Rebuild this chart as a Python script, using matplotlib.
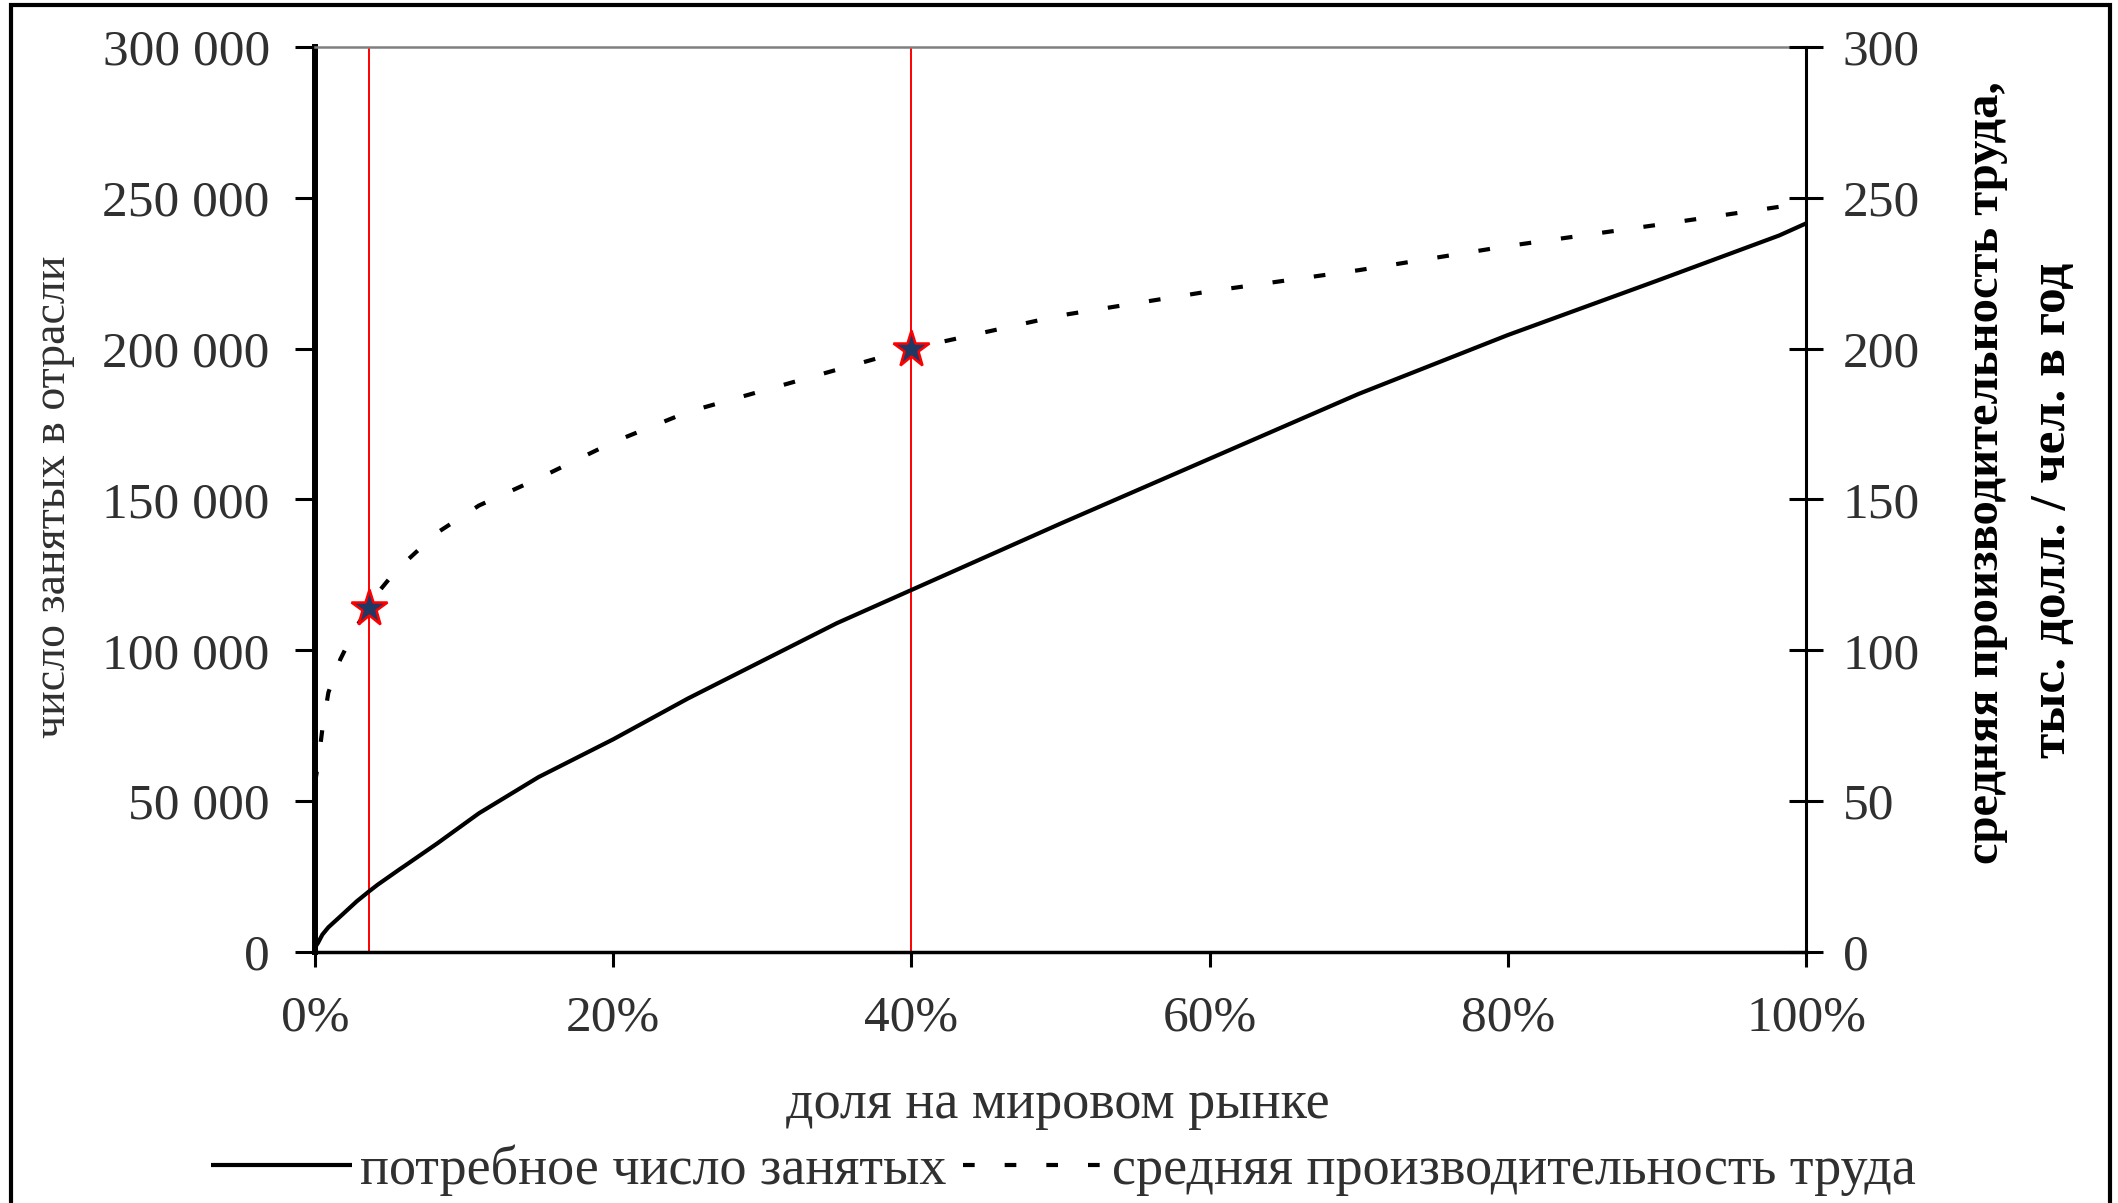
import numpy as np
import matplotlib.pyplot as plt
from matplotlib.patches import Rectangle

plt.rcParams['font.family'] = ['Liberation Serif', 'DejaVu Serif']

# market share (fraction)
share = [0.0, 0.002, 0.005, 0.009, 0.017, 0.028, 0.036, 0.042, 0.057, 0.06, 0.082,
         0.11, 0.15, 0.2, 0.25, 0.3, 0.35, 0.4, 0.5, 0.6, 0.7, 0.8, 0.9, 0.982, 1.0]
# required employment (persons), left axis
employed = [1500, 3000, 5800, 8200, 11800, 16800, 20000, 22300, 27500, 28500, 36000,
            46000, 58000, 70500, 84000, 96500, 109000, 120000, 142000, 163500, 185000,
            204500, 222500, 237500, 241500]
# average labour productivity (thous. USD / person / year), right axis
productivity = [56, 62, 74, 86, 97, 108, 114, 119, 128, 129, 139,
                148, 157, 169, 179, 186, 193, 200, 211, 219, 226, 234, 241, 247, 248]

marked_share = [0.036, 0.40]
marked_prod = [114, 200]

left_ticks = [0, 50000, 100000, 150000, 200000, 250000, 300000]
left_labels = ['0', '50 000', '100 000', '150 000', '200 000', '250 000', '300 000']
right_ticks = [0, 50, 100, 150, 200, 250, 300]
x_ticks = [0, 0.2, 0.4, 0.6, 0.8, 1.0]
x_labels = ['0%', '20%', '40%', '60%', '80%', '100%']

tick_color = '#303030'
fs_tick = 37
fs_lab = 39

fig = plt.figure(figsize=(21.18, 12.03), dpi=100)
ax = fig.add_axes([0.1487, 0.2086, 0.704, 0.7524])
ax2 = ax.twinx()

for xv in marked_share:
    ax.axvline(xv, color='red', lw=1.4, zorder=1)

l1, = ax.plot(share, employed, color='black', lw=3, solid_capstyle='butt', zorder=3)
l2, = ax2.plot(share, productivity, color='black', lw=3, dashes=(2.8, 7.2), zorder=3)
ax2.plot(marked_share, marked_prod, linestyle='none', marker='*', markersize=28,
         markerfacecolor='#1f3864', markeredgecolor='red', markeredgewidth=1.8, zorder=5)

ax.set_xlim(0, 1)
ax.set_ylim(0, 300000)
ax2.set_ylim(0, 300)

ax.set_xticks(x_ticks)
ax.set_xticklabels(x_labels)
ax.set_yticks(left_ticks)
ax.set_yticklabels(left_labels)
ax2.set_yticks(right_ticks)

ax.tick_params(axis='x', direction='out', length=11, width=2.2, pad=20,
               labelsize=fs_tick, labelcolor=tick_color)
ax.tick_params(axis='y', direction='out', length=14.5, width=2.2, pad=18,
               labelsize=fs_tick, labelcolor=tick_color)
ax2.tick_params(axis='y', direction='inout', length=25, width=2.2, pad=14,
                labelsize=fs_tick, labelcolor=tick_color)

ax.spines['left'].set_linewidth(4.3)
ax.spines['bottom'].set_linewidth(2.5)
ax.spines['top'].set_color('#808080')
ax.spines['top'].set_linewidth(1.8)
ax.spines['right'].set_visible(False)
for s in ['left', 'bottom', 'top']:
    ax2.spines[s].set_visible(False)
ax2.spines['right'].set_linewidth(2.2)

fig.text(0.0255, 0.587, 'число занятых в отрасли', rotation=90, ha='center', va='center',
         fontsize=33, color=tick_color)
fig.text(0.9377, 0.607, 'средняя производительность труда,', rotation=90, ha='center',
         va='center', fontsize=35, fontweight='bold', color='black')
fig.text(0.9693, 0.576, 'тыс. долл. / чел. в год', rotation=90, ha='center',
         va='center', fontsize=37, fontweight='bold', color='black')
fig.text(0.4995, 0.0815, 'доля на мировом рынке', ha='center', va='center',
         fontsize=fs_lab, color=tick_color)

fig.legend([l1, l2], ['потребное число занятых', 'средняя производительность труда'],
           loc='center', bbox_to_anchor=(0.502, 0.027), ncol=2, frameon=False,
           fontsize=fs_lab, handlelength=2.6, handletextpad=0.15, columnspacing=0.3,
           labelcolor=tick_color)

fig.patches.append(Rectangle((11 / 2118, -0.05), 2099 / 2118, 1.05 - 5 / 1203,
                             transform=fig.transFigure, fill=False, edgecolor='black',
                             linewidth=3, clip_on=False))

fig.savefig('out.png', dpi=100)
